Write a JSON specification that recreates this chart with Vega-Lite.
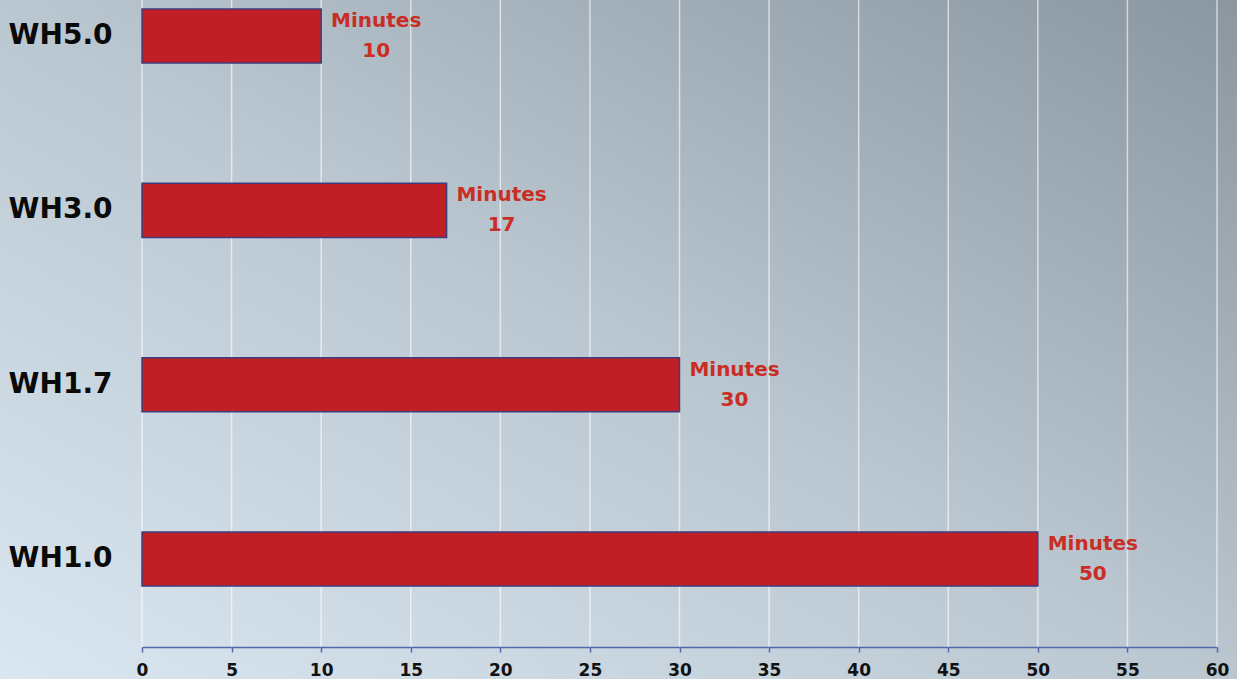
{
  "$schema": "https://vega.github.io/schema/vega-lite/v6.json",
  "width": 1237,
  "height": 647,
  "padding": {"left": 0, "top": 0, "right": 0, "bottom": 32},
  "autosize": {"type": "none"},
  "background": "#c4cfd8",
  "config": {"view": {"stroke": null}},
  "layer": [
    {
      "data": {"values": [{"panel": "background"}]},
      "mark": {
        "type": "rect",
        "clip": false,
        "fill": {
          "gradient": "linear",
          "x1": 0, "y1": 1, "x2": 1, "y2": 0,
          "stops": [
            {"offset": 0, "color": "#dae7f1"},
            {"offset": 0.5, "color": "#bac6d0"},
            {"offset": 1, "color": "#8a96a0"}
          ]
        }
      },
      "encoding": {
        "x": {"datum": -7.925, "type": "quantitative", "scale": {"domain": [0, 60], "range": [142, 1217], "nice": false, "zero": false}, "title": null},
        "x2": {"datum": 61.115},
        "y": {"datum": 0, "type": "quantitative", "scale": {"domain": [0, 1], "range": [0, 679], "nice": false, "zero": false}, "axis": null},
        "y2": {"datum": 1}
      }
    },
    {
      "data": {"values": [{"t": 0}, {"t": 5}, {"t": 10}, {"t": 15}, {"t": 20}, {"t": 25}, {"t": 30}, {"t": 35}, {"t": 40}, {"t": 45}, {"t": 50}, {"t": 55}, {"t": 60}]},
      "mark": {"type": "rule", "color": "#ffffff", "opacity": 0.6, "strokeWidth": 1.5},
      "encoding": {
        "x": {"field": "t", "type": "quantitative", "scale": {"domain": [0, 60], "range": [142, 1217], "nice": false, "zero": false}, "title": null}
      }
    },
    {
      "data": {
        "values": [
          {"version": "WH5.0", "minutes": 10},
          {"version": "WH3.0", "minutes": 17},
          {"version": "WH1.7", "minutes": 30},
          {"version": "WH1.0", "minutes": 50}
        ]
      },
      "encoding": {
        "y": {
          "field": "version",
          "type": "nominal",
          "sort": ["WH5.0", "WH3.0", "WH1.7", "WH1.0"],
          "scale": {"range": [0, 647], "paddingInner": 0.69, "paddingOuter": 0.2006, "align": 0.1286},
          "axis": {
            "title": null,
            "orient": "left",
            "offset": -112,
            "zindex": 1,
            "domain": false,
            "ticks": false,
            "tickSize": 0,
            "labelPadding": 0,
            "grid": false,
            "labelFont": "DejaVu Sans",
            "labelFontWeight": "bold",
            "labelFontSize": 28,
            "labelColor": "#0a0a0a",
            "labelAlign": "right",
            "labelBaseline": "middle"
          }
        },
        "x": {
          "field": "minutes",
          "type": "quantitative",
          "scale": {"domain": [0, 60], "range": [142, 1217], "nice": false, "zero": false},
          "title": null,
          "axis": {
            "title": null,
            "values": [0, 5, 10, 15, 20, 25, 30, 35, 40, 45, 50, 55, 60],
            "zindex": 1,
            "grid": false,
            "domainColor": "#5468b0",
            "domainWidth": 1.5,
            "tickColor": "#5468b0",
            "tickSize": 5,
            "tickWidth": 1.5,
            "labelFlush": false,
            "labelFont": "DejaVu Sans",
            "labelFontWeight": "bold",
            "labelFontSize": 17,
            "labelColor": "#111111",
            "labelPadding": 10,
            "labelBaseline": "top"
          }
        }
      },
      "layer": [
        {"mark": {"type": "bar", "fill": "#c11f26", "stroke": "#3f3c7c", "strokeWidth": 1.5}},
        {
          "mark": {"type": "text", "align": "center", "baseline": "middle", "dx": 55, "dy": -15, "font": "DejaVu Sans", "fontWeight": "bold", "fontSize": 20, "fill": "#c92d24"},
          "encoding": {"text": {"value": "Minutes"}}
        },
        {
          "mark": {"type": "text", "align": "center", "baseline": "middle", "dx": 55, "dy": 15, "font": "DejaVu Sans", "fontWeight": "bold", "fontSize": 20, "fill": "#c92d24"},
          "encoding": {"text": {"field": "minutes", "type": "quantitative"}}
        }
      ]
    }
  ],
  "resolve": {"scale": {"y": "independent"}, "axis": {"y": "independent"}}
}
